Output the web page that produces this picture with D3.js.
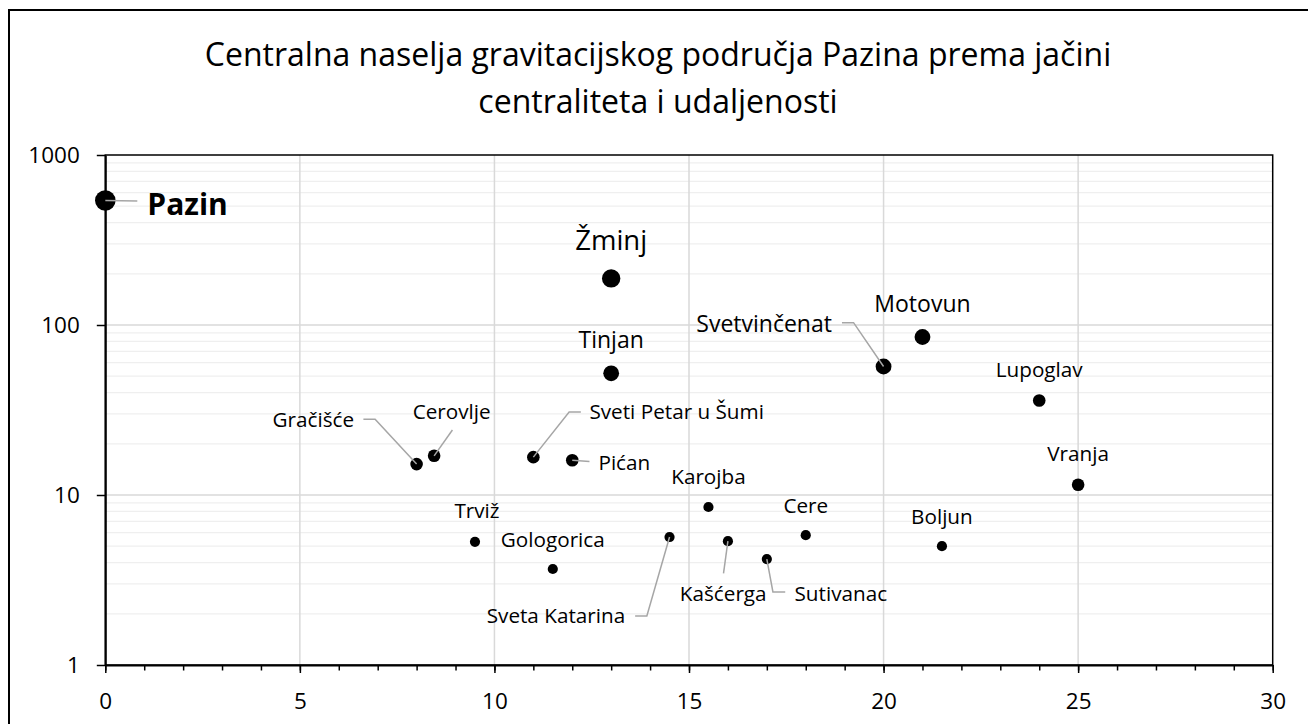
<!DOCTYPE html>
<html>
<head>
<meta charset="utf-8">
<script src="https://cdn.jsdelivr.net/npm/d3@7"></script>
<style>
  html, body { margin: 0; padding: 0; background: #fff; }
  svg { display: block; }
  text { font-family: "Open Sans", "Noto Sans", sans-serif; fill: #000; }
</style>
</head>
<body>
<svg id="chart" width="1308" height="724"></svg>
<script>
// ---------- DATA ----------
const titleLines = ["Centralna naselja gravitacijskog područja Pazina prema jačini", "centraliteta i udaljenosti"];
const names = ["Pazin", "Žminj", "Tinjan", "Svetvinčenat", "Motovun", "Lupoglav", "Vranja",
  "Gračišće", "Cerovlje", "Sveti Petar u Šumi", "Pićan", "Karojba", "Trviž", "Gologorica",
  "Sveta Katarina", "Kašćerga", "Sutivanac", "Cere", "Boljun"];
const distance = [0, 13, 13, 20, 21, 24, 25, 8, 8.45, 11, 12, 15.5, 9.5, 11.5, 14.5, 16, 17, 18, 21.5];
const centrality = [540, 188, 52, 57, 85, 36, 11.5, 15.2, 17, 16.7, 16, 8.5, 5.3, 3.67, 5.66, 5.35, 4.2, 5.8, 5.0];
const rank = [1, 2, 3, 3, 3, 4, 4, 4, 4, 4, 4, 5, 5, 5, 5, 5, 5, 5, 5];
const xTickLabels = [0, 5, 10, 15, 20, 25, 30];
const yTickLabels = [1, 10, 100, 1000];

// ---------- STYLE / LAYOUT ----------
const radiusByRank = {1: 10.3, 2: 9.2, 3: 7.9, 4: 6.3, 5: 5.1};
const fontByRank = {1: 30, 2: 27.5, 3: 23, 4: 20.7, 5: 20.7};
// label offsets (px) relative to the marker; leader polyline offsets relative to the marker
const labelLayout = {
  "Pazin": {anchor: "start", dx: 42, dy: 14.5, leader: [[0, 0], [32, 0.5]]},
  "Žminj": {anchor: "middle", dx: 0, dy: -28},
  "Tinjan": {anchor: "middle", dx: 0, dy: -25},
  "Svetvinčenat": {anchor: "end", dx: -51.6, dy: -34.8, leader: [[-41.6, -43.8], [-30, -43.8], [0, 0]]},
  "Motovun": {anchor: "middle", dx: 0, dy: -25.3},
  "Lupoglav": {anchor: "middle", dx: 0, dy: -23.7},
  "Vranja": {anchor: "middle", dx: 0, dy: -23.7},
  "Gračišće": {anchor: "end", dx: -62.5, dy: -36.8, leader: [[-53.2, -44.8], [-41.5, -44.8], [0, 0]]},
  "Cerovlje": {anchor: "middle", dx: 17.5, dy: -36.8, leader: [[18.3, -25.8], [0, 0]]},
  "Sveti Petar u Šumi": {anchor: "start", dx: 56.1, dy: -37.8, leader: [[47.5, -45.1], [35.8, -45.1], [0, 0]]},
  "Pićan": {anchor: "start", dx: 26.2, dy: 9.7, leader: [[0, 0], [17.2, 1.2]]},
  "Karojba": {anchor: "middle", dx: 0, dy: -23},
  "Trviž": {anchor: "middle", dx: 2, dy: -23.6},
  "Gologorica": {anchor: "middle", dx: 0, dy: -22.3},
  "Sveta Katarina": {anchor: "end", dx: -44.4, dy: 86.3, leader: [[-34.4, 79], [-22.7, 79], [0, 0]]},
  "Kašćerga": {anchor: "middle", dx: -4.7, dy: 59.5, leader: [[-4.4, 32.1], [0, 0]]},
  "Sutivanac": {anchor: "start", dx: 27.7, dy: 41.6, leader: [[18.4, 32.9], [6.1, 32.9], [0, 0]]},
  "Cere": {anchor: "middle", dx: 0, dy: -22.5},
  "Boljun": {anchor: "middle", dx: 0, dy: -21.9}
};

const plot = {left: 105.3, right: 1272.7, top: 155, bottom: 665};

const svg = d3.select("#chart");

// outer chart border
svg.append("rect").attr("x", 9).attr("y", 10).attr("width", 1400).attr("height", 800)
  .attr("fill", "#fff").attr("stroke", "#000").attr("stroke-width", 2);

// title
svg.append("g").selectAll("text").data(titleLines).join("text")
  .attr("x", 658).attr("y", (d, i) => 65.7 + i * 47)
  .attr("text-anchor", "middle").attr("font-size", 32)
  .text(d => d);

const x = d3.scaleLinear().domain([0, 30]).range([plot.left, plot.right]);
const y = d3.scaleLog().domain([1, 1000]).range([plot.bottom, plot.top]);

// minor horizontal gridlines
const minorY = [];
for (let dec = 1; dec < 1000; dec *= 10) for (let k = 2; k <= 9; k++) minorY.push(dec * k);
svg.append("g").selectAll("line").data(minorY).join("line")
  .attr("x1", plot.left).attr("x2", plot.right)
  .attr("y1", d => y(d)).attr("y2", d => y(d))
  .attr("stroke", "#efefef").attr("stroke-width", 1.3);

// major horizontal gridlines
svg.append("g").selectAll("line").data([10, 100]).join("line")
  .attr("x1", plot.left).attr("x2", plot.right)
  .attr("y1", d => y(d)).attr("y2", d => y(d))
  .attr("stroke", "#d9d9d9").attr("stroke-width", 1.5);

// vertical gridlines
svg.append("g").selectAll("line").data([5, 10, 15, 20, 25]).join("line")
  .attr("x1", d => x(d)).attr("x2", d => x(d))
  .attr("y1", plot.top).attr("y2", plot.bottom)
  .attr("stroke", "#d9d9d9").attr("stroke-width", 1.5);

// plot frame (top & right)
svg.append("rect").attr("x", plot.left).attr("y", plot.top)
  .attr("width", plot.right - plot.left).attr("height", plot.bottom - plot.top)
  .attr("fill", "none").attr("stroke", "#000").attr("stroke-width", 1.5);

// x minor ticks
const xMinor = svg.append("g").attr("transform", `translate(0,${plot.bottom})`)
  .call(d3.axisBottom(x).tickValues(d3.range(0, 31)).tickSize(5.5).tickFormat(""));
xMinor.select(".domain").remove();
xMinor.selectAll(".tick line").attr("stroke", "#000").attr("stroke-width", 1.5);

// x axis
const xAxis = svg.append("g").attr("transform", `translate(0,${plot.bottom})`)
  .call(d3.axisBottom(x).tickValues(xTickLabels).tickSize(8).tickSizeOuter(0).tickPadding(20).tickFormat(d3.format("d")));
xAxis.select(".domain").attr("stroke", "#000").attr("stroke-width", 2);
xAxis.selectAll(".tick line").attr("stroke", "#000").attr("stroke-width", 1.5);
xAxis.selectAll(".tick text").attr("font-size", 22.5).attr("font-family", "Open Sans").attr("fill", "#000");

// y axis
const yAxis = svg.append("g").attr("transform", `translate(${plot.left},0)`)
  .call(d3.axisLeft(y).tickValues(yTickLabels).tickSize(8.5).tickSizeOuter(0).tickPadding(17).tickFormat(d3.format("d")));
yAxis.select(".domain").attr("stroke", "#000").attr("stroke-width", 2);
yAxis.selectAll(".tick line").attr("stroke", "#000").attr("stroke-width", 1.5);
yAxis.selectAll(".tick text").attr("font-size", 22.5).attr("font-family", "Open Sans").attr("fill", "#000");

// data
const data = names.map((n, i) => ({name: n, dist: distance[i], cent: centrality[i], rank: rank[i]}));

// markers
svg.append("g").selectAll("circle").data(data).join("circle")
  .attr("cx", d => x(d.dist)).attr("cy", d => y(d.cent))
  .attr("r", d => radiusByRank[d.rank]).attr("fill", "#000");

// leader lines
const line = d3.line();
svg.append("g").selectAll("path").data(data.filter(d => labelLayout[d.name].leader)).join("path")
  .attr("d", d => {
    const px = x(d.dist), py = y(d.cent);
    return line(labelLayout[d.name].leader.map(p => [px + p[0], py + p[1]]));
  })
  .attr("fill", "none").attr("stroke", "#a6a6a6").attr("stroke-width", 1.5);

// labels
svg.append("g").selectAll("text").data(data).join("text")
  .attr("x", d => x(d.dist) + labelLayout[d.name].dx)
  .attr("y", d => y(d.cent) + labelLayout[d.name].dy)
  .attr("text-anchor", d => labelLayout[d.name].anchor)
  .attr("font-size", d => fontByRank[d.rank])
  .attr("font-weight", d => d.rank === 1 ? "bold" : "normal")
  .text(d => d.name);
</script>
</body>
</html>
